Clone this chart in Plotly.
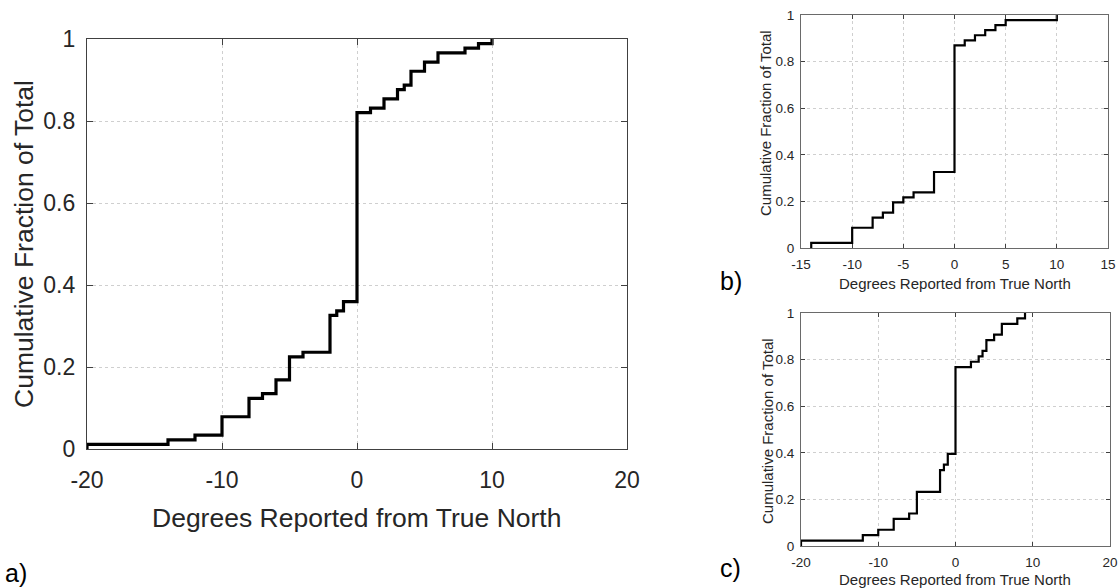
import numpy as np
import plotly.graph_objects as go

# ---- data: reported degrees from true north and how many reports gave each ----
deg_b = [-14, -10, -8, -7, -6, -5, -4, -2, 0, 1, 2, 3, 4, 5, 10]
cnt_b = [1, 3, 2, 1, 2, 1, 1, 4, 25, 1, 1, 1, 1, 1, 1]

deg_c = [-20, -12, -10, -8, -6, -5, -2, -1.5, -1, 0, 2, 3, 3.5, 4, 5, 6, 8, 9]
cnt_c = [1, 1, 1, 2, 1, 4, 4, 1, 2, 16, 1, 1, 1, 2, 1, 2, 1, 1]

# panel a pools both groups
_pool = {}
for d, n in list(zip(deg_b, cnt_b)) + list(zip(deg_c, cnt_c)):
    _pool[d] = _pool.get(d, 0) + n
deg_a = sorted(_pool)
cnt_a = [_pool[d] for d in deg_a]

x_ticks_a = [-20, -10, 0, 10, 20]
x_ticks_b = [-15, -10, -5, 0, 5, 10, 15]
x_ticks_c = [-20, -10, 0, 10, 20]
y_ticks = [0, 0.2, 0.4, 0.6, 0.8, 1]
y_tick_text = ["0", "0.2", "0.4", "0.6", "0.8", "1"]

x_title = "Degrees Reported from True North"
y_title = "Cumulative Fraction of Total"


def ecdf(deg, cnt):
    frac = np.cumsum(cnt) / np.sum(cnt)
    xs = [deg[0]] + list(deg)
    ys = [0.0] + list(frac)
    return xs, ys


W, H = 1120, 588
FONT = "Liberation Sans, Arial, sans-serif"
TXT = "#262626"

fig = go.Figure()

panels = [
    # name, deg, cnt, xaxis, yaxis, px-box (l, r, t, b), xrange, xticks, linewidth,
    # tickfont, titlefont, x-title centre (x,y), y-title centre (x,y), tick standoffs (x,y)
    ("a", deg_a, cnt_a, "x", "y", (87, 627, 39, 449), [-20, 20], x_ticks_a, 3.2,
     23, 26.5, (356, 518), (24, 244), (10, 6)),
    ("b", deg_b, cnt_b, "x2", "y2", (801, 1108, 15, 248), [-15, 15], x_ticks_b, 2.2,
     13.5, 15, (955, 283), (766, 123), (4, 3)),
    ("c", deg_c, cnt_c, "x3", "y3", (801, 1110, 313, 546), [-20, 20], x_ticks_c, 2.2,
     13.5, 15, (955, 579), (767, 431), (4, 3)),
]

for (name, deg, cnt, xa, ya, box, xr, xt, lw, tf, ttf, xtc, ytc, so) in panels:
    xs, ys = ecdf(deg, cnt)
    fig.add_trace(go.Scatter(
        x=xs, y=ys, xaxis=xa, yaxis=ya, mode="lines",
        line=dict(shape="hv", color="black", width=lw),
        showlegend=False, hoverinfo="x+y"))

    l, r, t, b = box
    big = name == "a"
    axis_common = dict(
        showline=True, linecolor="#404040" if big else "#6a6a6a", linewidth=1.3 if big else 1,
        mirror="ticks", ticks="inside", ticklen=6 if big else 4, tickcolor="#404040",
        showgrid=True, gridcolor="#cfcfcf", griddash="dot", gridwidth=1,
        zeroline=False, automargin=False,
        tickfont=dict(family=FONT, size=tf, color=TXT),
    )
    xkey = "xaxis" if xa == "x" else "xaxis" + xa[1:]
    ykey = "yaxis" if ya == "y" else "yaxis" + ya[1:]
    fig.update_layout(**{
        xkey: dict(axis_common, domain=[l / W, r / W], anchor=ya, range=xr,
                   tickvals=xt, ticktext=[str(v) for v in xt], ticklabelstandoff=so[0]),
        ykey: dict(axis_common, domain=[1 - b / H, 1 - t / H], anchor=xa, range=[0, 1],
                   tickvals=y_ticks, ticktext=y_tick_text, ticklabelstandoff=so[1]),
    })
    fig.add_annotation(text=x_title, x=xtc[0] / W, y=1 - xtc[1] / H, xref="paper", yref="paper",
                       xanchor="center", yanchor="middle", showarrow=False,
                       font=dict(family=FONT, size=ttf, color=TXT))
    fig.add_annotation(text=y_title, x=ytc[0] / W, y=1 - ytc[1] / H, xref="paper", yref="paper",
                       xanchor="center", yanchor="middle", showarrow=False, textangle=-90,
                       font=dict(family=FONT, size=ttf, color=TXT))

labels = [("a)", 3, 573), ("b)", 718, 281), ("c)", 718, 568)]
for txt, px, py in labels:
    fig.add_annotation(text=txt, x=px / W, y=1 - py / H, xref="paper", yref="paper",
                       xanchor="left", yanchor="middle", showarrow=False,
                       font=dict(family=FONT, size=25, color="black"))

fig.update_layout(width=W, height=H, margin=dict(l=0, r=0, t=0, b=0),
                  paper_bgcolor="white", plot_bgcolor="white")

fig.write_html(
    "out.html",
    config={"displayModeBar": False},
    post_script="document.body.style.margin='0';document.body.style.overflow='hidden';",
)
